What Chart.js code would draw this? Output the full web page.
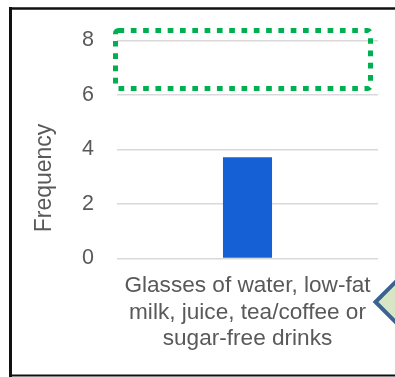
<!DOCTYPE html>
<html>
<head>
<meta charset="utf-8">
<script src="https://cdn.jsdelivr.net/npm/chart.js@4/dist/chart.umd.min.js"></script>
<style>
  html, body { margin: 0; padding: 0; background: #ffffff; }
  #wrap { width: 395px; height: 377px; position: relative; }
</style>
</head>
<body>
<div id="wrap"><canvas id="c" width="395" height="377"></canvas></div>
<script>
// Drink category (label split over three lines) and how often it was reported
const categories = [["Glasses of water, low-fat", "milk, juice, tea/coffee or", "sugar-free drinks"]];
const frequency = [3.72];
const yTicks = [0, 2, 4, 6, 8];
const axisTitle = "Frequency";

const textGrey = "#595959";

// Frame, highlight box, callout tip and rotated axis title
const decorations = {
  id: "decorations",
  afterDatasetsDraw(chart) {
    const ctx = chart.ctx;
    const a = chart.chartArea;
    const y = chart.scales.y;

    // dotted green highlight around the upper band of the plot
    ctx.save();
    ctx.strokeStyle = "#00B050";
    ctx.lineWidth = 5;
    ctx.setLineDash([5.7, 6.6]);
    const top = y.getPixelForValue(8.37);
    const bottom = y.getPixelForValue(6.24);
    const left = a.left - 1.5;
    const right = a.right - 7.5;
    ctx.beginPath();
    ctx.roundRect(left, top, right - left, bottom - top, 3);
    ctx.stroke();
    ctx.restore();

    // tip of the callout shape at the right edge
    ctx.save();
    ctx.beginPath();
    ctx.moveTo(375.5, 302);
    ctx.lineTo(400, 277.5);
    ctx.lineTo(424.5, 302);
    ctx.lineTo(400, 326.5);
    ctx.closePath();
    ctx.fillStyle = "#D8E6C6";
    ctx.fill();
    ctx.strokeStyle = "#3B6391";
    ctx.lineWidth = 4;
    ctx.stroke();
    ctx.restore();

    // axis title
    ctx.save();
    ctx.translate(45, 178);
    ctx.rotate(-Math.PI / 2);
    ctx.fillStyle = textGrey;
    ctx.font = "23px 'Liberation Sans', Arial, sans-serif";
    ctx.textAlign = "center";
    ctx.textBaseline = "middle";
    ctx.fillText(axisTitle, 0, 0);
    ctx.restore();

    // outer frame (left, top, bottom edges)
    ctx.save();
    ctx.strokeStyle = "#111111";
    ctx.lineWidth = 3;
    ctx.beginPath();
    ctx.moveTo(10.5, 7);
    ctx.lineTo(10.5, 377);
    ctx.stroke();
    ctx.lineWidth = 2.5;
    ctx.beginPath();
    ctx.moveTo(9, 8.5);
    ctx.lineTo(395, 8.5);
    ctx.stroke();
    ctx.lineWidth = 2;
    ctx.beginPath();
    ctx.moveTo(9, 375.5);
    ctx.lineTo(395, 375.5);
    ctx.stroke();
    ctx.restore();
  }
};

new Chart(document.getElementById("c"), {
  type: "bar",
  data: {
    labels: categories,
    datasets: [{
      label: axisTitle,
      data: frequency,
      backgroundColor: "#1560D4",
      borderWidth: 0,
      barPercentage: 0.188,
      categoryPercentage: 1
    }]
  },
  options: {
    responsive: false,
    animation: false,
    devicePixelRatio: 1,
    layout: { padding: { left: 0, right: 17, top: 40.5, bottom: 0 } },
    plugins: { legend: { display: false }, tooltip: { enabled: false } },
    scales: {
      x: {
        grid: { display: false, drawTicks: false },
        border: { display: false },
        ticks: {
          color: textGrey,
          font: { family: "'Liberation Sans', Arial, sans-serif", size: 22.6, lineHeight: 1.18 },
          padding: 14,
          maxRotation: 0,
          autoSkip: false
        },
        afterFit(s) { s.height = 118.5; }
      },
      y: {
        min: 0,
        max: 8,
        afterBuildTicks(s) { s.ticks = yTicks.map(v => ({ value: v })); },
        grid: { color: "#d9d9d9", lineWidth: 1.6, drawTicks: false },
        border: { display: false },
        ticks: {
          color: textGrey,
          font: { family: "'Liberation Sans', Arial, sans-serif", size: 21.5 },
          padding: 23
        },
        afterFit(s) { s.width = 117; }
      }
    }
  },
  plugins: [decorations]
});
</script>
</body>
</html>
